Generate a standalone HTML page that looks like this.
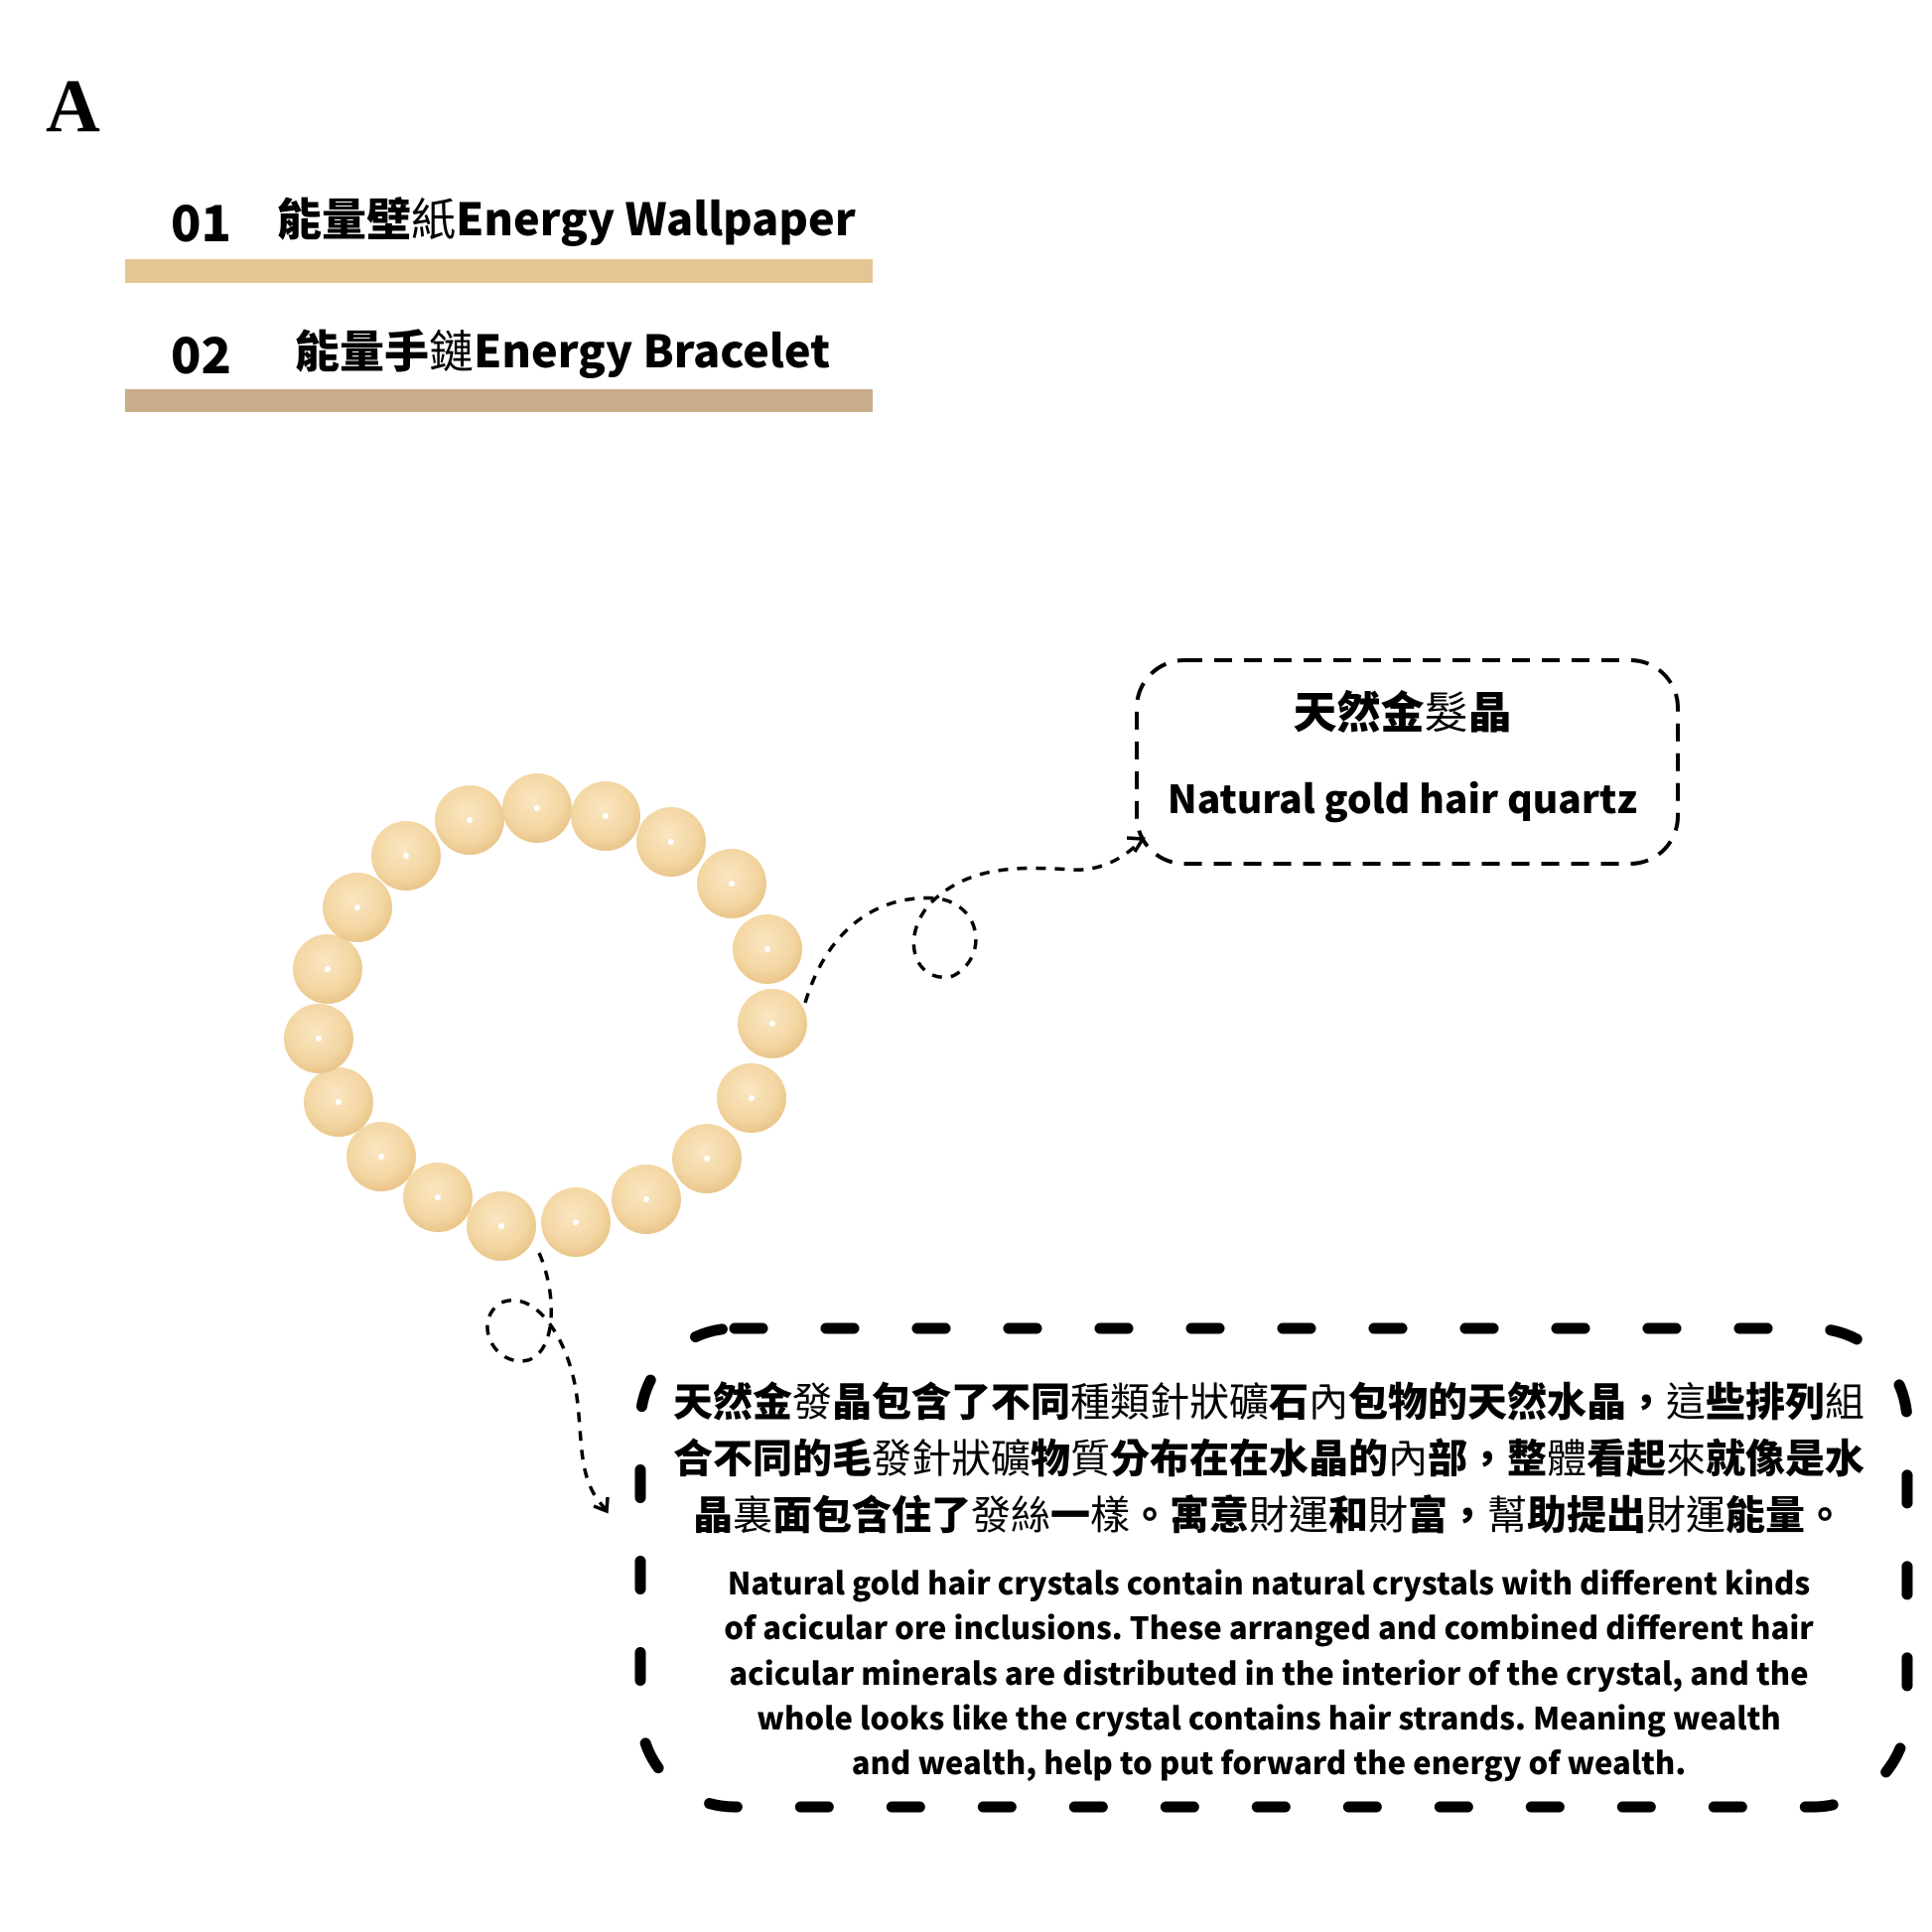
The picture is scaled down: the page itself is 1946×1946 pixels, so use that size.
<!DOCTYPE html>
<html><head><meta charset="utf-8"><style>
html,body{margin:0;padding:0;background:#fff;}
body{width:1946px;height:1946px;position:relative;overflow:hidden;font-family:"Noto Sans CJK TC","Liberation Sans",sans-serif;}
.t{position:absolute;white-space:nowrap;font-weight:700;color:#000;}
.bar{position:absolute;left:126px;width:753px;}
</style></head><body>
<div class="t" style="left:46px;top:64px;font-family:'Liberation Serif',serif;font-size:76px;font-weight:900;">A</div>
<div class="t" style="left:172px;top:192px;font-size:50px;line-height:60px;font-weight:900;">01</div>
<div class="t" style="left:279px;top:188px;font-size:45px;line-height:60px;font-weight:900;">能量壁<span style="font-weight:400">紙</span>Energy Wallpaper</div>
<div class="bar" style="top:261px;height:24px;background:#e5c594;"></div>
<div class="t" style="left:172px;top:325px;font-size:50px;line-height:60px;font-weight:900;">02</div>
<div class="t" style="left:297px;top:321px;font-size:45px;line-height:60px;font-weight:900;">能量手<span style="font-weight:400">鏈</span>Energy Bracelet</div>
<div class="bar" style="top:392px;height:23px;background:#c9ad8a;"></div>

<svg width="1946" height="1946" style="position:absolute;left:0;top:0">
<defs><radialGradient id="g" cx="45%" cy="40%" r="60%"><stop offset="0" stop-color="#fae6c2"/><stop offset="0.7" stop-color="#f3d6a2"/><stop offset="1" stop-color="#eac58a"/></radialGradient></defs>
<g fill="url(#g)">
<circle cx="473" cy="826" r="35"/><circle cx="541" cy="814" r="35"/><circle cx="610" cy="822" r="35"/><circle cx="676" cy="848" r="35"/><circle cx="737" cy="890" r="35"/><circle cx="773" cy="956" r="35"/><circle cx="778" cy="1031" r="35"/><circle cx="757" cy="1106" r="35"/><circle cx="712" cy="1167" r="35"/><circle cx="651" cy="1208" r="35"/><circle cx="580" cy="1231" r="35"/><circle cx="505" cy="1235" r="35"/><circle cx="441" cy="1206" r="35"/><circle cx="384" cy="1165" r="35"/><circle cx="341" cy="1110" r="35"/><circle cx="321" cy="1046" r="35"/><circle cx="330" cy="976" r="35"/><circle cx="360" cy="914" r="35"/><circle cx="409" cy="862" r="35"/>
</g>
<g fill="#fff">
<circle cx="473" cy="826" r="3"/><circle cx="541" cy="814" r="3"/><circle cx="610" cy="822" r="3"/><circle cx="676" cy="848" r="3"/><circle cx="737" cy="890" r="3"/><circle cx="773" cy="956" r="3"/><circle cx="778" cy="1031" r="3"/><circle cx="757" cy="1106" r="3"/><circle cx="712" cy="1167" r="3"/><circle cx="651" cy="1208" r="3"/><circle cx="580" cy="1231" r="3"/><circle cx="505" cy="1235" r="3"/><circle cx="441" cy="1206" r="3"/><circle cx="384" cy="1165" r="3"/><circle cx="341" cy="1110" r="3"/><circle cx="321" cy="1046" r="3"/><circle cx="330" cy="976" r="3"/><circle cx="360" cy="914" r="3"/><circle cx="409" cy="862" r="3"/>
</g>
<rect x="1145" y="665" width="545" height="205" rx="48" fill="none" stroke="#000" stroke-width="4" stroke-dasharray="18 12"/>
<rect x="645" y="1338" width="1276" height="482" rx="95" fill="none" stroke="#000" stroke-width="11" stroke-linecap="round" stroke-dasharray="28 64"/>
<path d="M811,1010 C835,930 890,900 945,905 C990,912 995,965 960,983 C925,992 905,950 935,912 C975,870 1030,873 1080,876 C1110,878 1135,862 1150,846" fill="none" stroke="#000" stroke-width="3.5" stroke-dasharray="10 9"/>
<path d="M1135,844 L1151,845 L1143,858" fill="none" stroke="#000" stroke-width="3.5"/>
<path d="M543,1262 C560,1300 562,1360 532,1370 C497,1378 475,1330 505,1312 C540,1298 572,1350 580,1400 C588,1450 580,1490 610,1520" fill="none" stroke="#000" stroke-width="3.5" stroke-dasharray="10 9"/>
<path d="M598,1517 L611,1522 L612,1508" fill="none" stroke="#000" stroke-width="3.5"/>
</svg>

<div class="t" style="left:1140px;width:545px;text-align:center;top:686px;font-size:44px;line-height:56px;font-weight:900;">天然金<span style="font-weight:400">髮</span>晶</div>
<div class="t" style="left:1140px;width:545px;text-align:center;top:778px;font-size:39px;line-height:50px;font-weight:900;">Natural gold hair quartz</div>

<div class="t" style="left:640px;width:1276px;text-align:center;top:1381px;font-size:40px;line-height:57px;font-weight:900;">天然金<span style="font-weight:400">發</span>晶包含了不同<span style="font-weight:400">種類針狀礦</span>石<span style="font-weight:400">內</span>包物的天然水晶，<span style="font-weight:400">這</span>些排列<span style="font-weight:400">組</span><br>合不同的毛<span style="font-weight:400">發針狀礦</span>物<span style="font-weight:400">質</span>分布在在水晶的<span style="font-weight:400">內</span>部，整<span style="font-weight:400">體</span>看起<span style="font-weight:400">來</span>就像是水<br>晶<span style="font-weight:400">裏</span>面包含住了<span style="font-weight:400">發絲</span>一<span style="font-weight:400">樣</span>。寓意<span style="font-weight:400">財運</span>和<span style="font-weight:400">財</span>富，<span style="font-weight:400">幫</span>助提出<span style="font-weight:400">財運</span>能量。</div>
<div class="t" style="left:640px;width:1276px;text-align:center;top:1570px;font-size:31px;line-height:45.3px;font-weight:900;">Natural gold hair crystals contain natural crystals with different kinds<br>of acicular ore inclusions. These arranged and combined different hair<br>acicular minerals are distributed in the interior of the crystal, and the<br>whole looks like the crystal contains hair strands. Meaning wealth<br>and wealth, help to put forward the energy of wealth.</div>
</body></html>
